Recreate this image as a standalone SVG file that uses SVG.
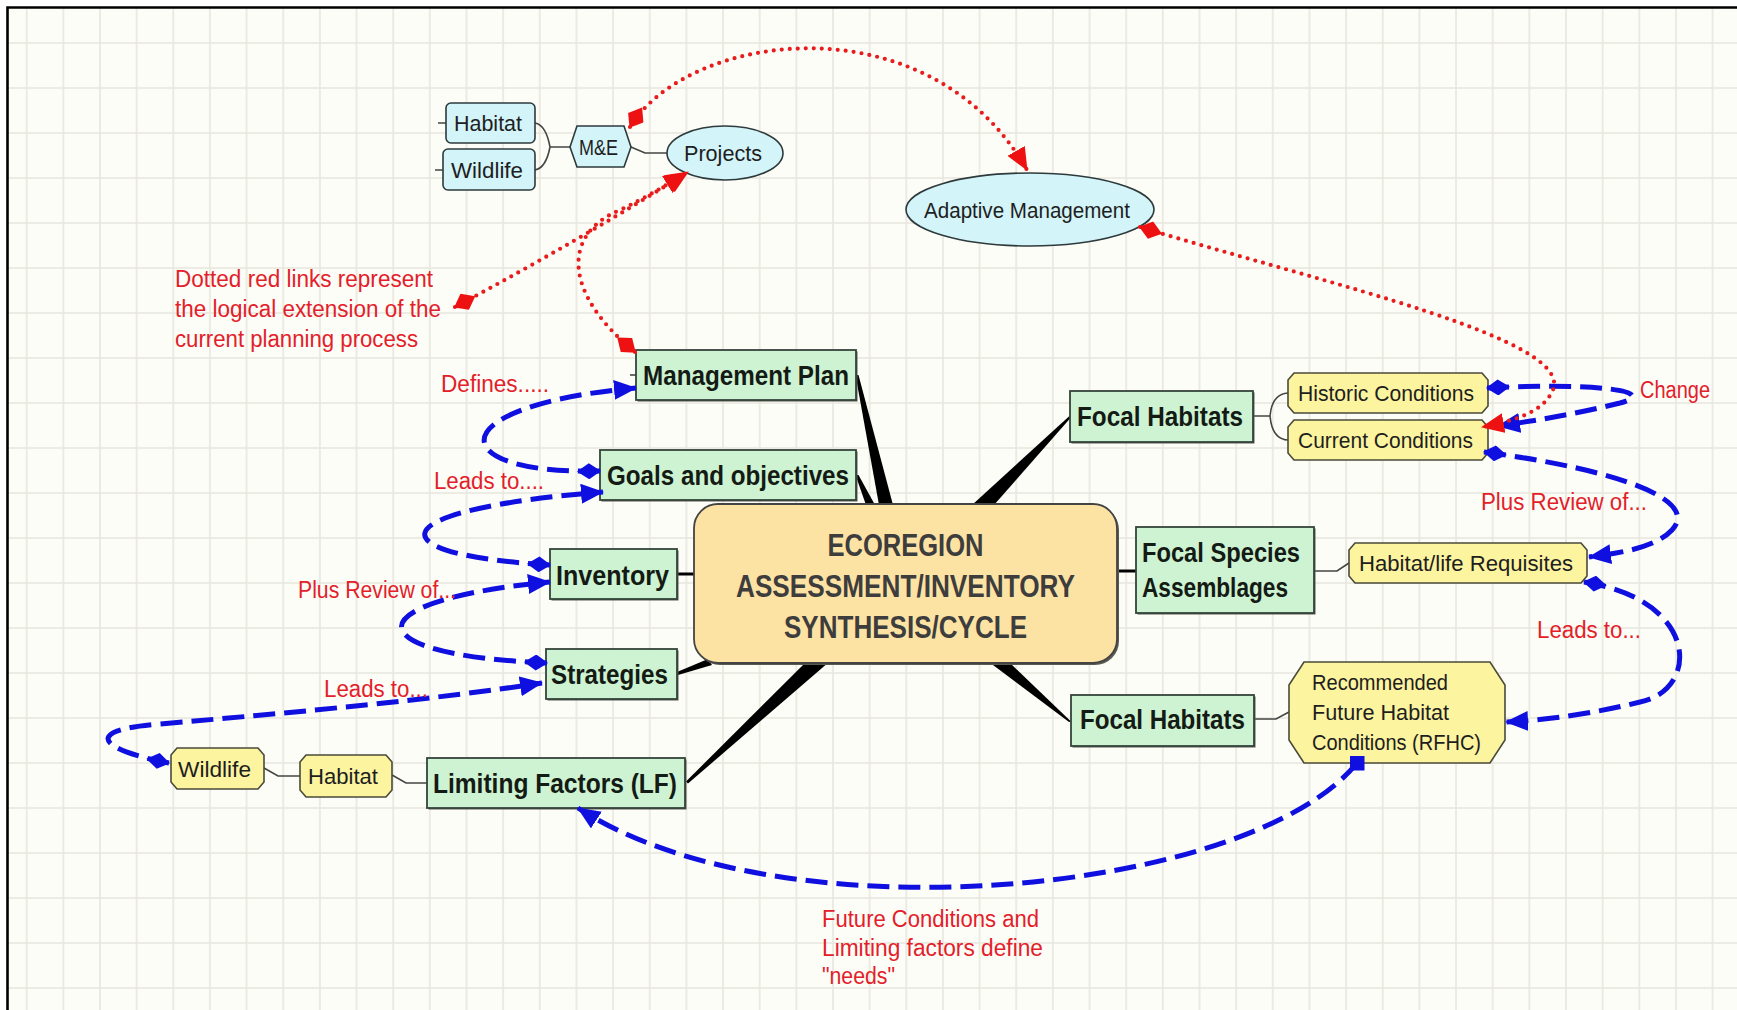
<svg xmlns="http://www.w3.org/2000/svg" width="1737" height="1010" viewBox="0 0 1737 1010">
<defs>
<style>
.t{font-family:"Liberation Sans",Arial,sans-serif;}
.g{font-size:27px;font-weight:bold;fill:#141a14;}
.c{font-size:32px;font-weight:bold;fill:#3d3d3d;}
.s{font-size:22.5px;fill:#1e1e1e;}
.r{font-size:23px;fill:#e3202a;}
.gn{fill:#cdf3d2;stroke:#34443a;stroke-width:1.8;}
.yn{fill:#fcf49f;stroke:#4a4a3a;stroke-width:1.6;}
.cn{fill:#d3f4f9;stroke:#2e3a3c;stroke-width:1.6;}
.sh{fill:#5a5a50;}
.ln{fill:none;stroke:#444;stroke-width:1.6;}
.sp{fill:#000;}
.bd{fill:none;stroke:#0f10e0;stroke-width:5;stroke-dasharray:22 9;}
.rd{fill:none;stroke:#e81c1c;stroke-width:4.2;stroke-dasharray:0 8;stroke-linecap:round;}
</style>
<pattern id="grid" patternUnits="userSpaceOnUse" x="25.7" y="42" width="36.65" height="45">
<rect width="36.65" height="45" fill="#fdfdf7"/>
<path d="M1,0 V45 M0,1 H36.65" stroke="#e7e7e0" stroke-width="1.6" fill="none"/>
</pattern>
<marker id="bA" markerUnits="userSpaceOnUse" markerWidth="24" markerHeight="20" refX="22" refY="10" orient="auto"><path d="M0,0 L23,10 L0,20 z" fill="#0f10e0"/></marker>
<marker id="bD" markerUnits="userSpaceOnUse" markerWidth="24" markerHeight="16" refX="1" refY="8" orient="auto"><path d="M0,8 L12,0 L24,8 L12,16 z" fill="#0f10e0"/></marker>
<marker id="bS" markerUnits="userSpaceOnUse" markerWidth="15" markerHeight="15" refX="7.5" refY="7.5" orient="0"><rect width="15" height="15" fill="#0f10e0"/></marker>
<marker id="rA" markerUnits="userSpaceOnUse" markerWidth="24" markerHeight="20" refX="22" refY="10" orient="auto"><path d="M0,0 L23,10 L0,20 z" fill="#ee1111"/></marker>
<marker id="rD" markerUnits="userSpaceOnUse" markerWidth="24" markerHeight="18" refX="1" refY="9" orient="auto"><path d="M0,9 L12,0 L24,9 L12,18 z" fill="#ee1111"/></marker>
</defs>

<rect width="1737" height="1010" fill="#ffffff"/>
<rect x="8" y="8" width="1729" height="1002" fill="url(#grid)"/>
<path d="M7.5,1010 V7.5 H1737" fill="none" stroke="#000" stroke-width="2.6"/>

<g id="spokes">
<polygon class="sp" points="855.5,375 858.5,375 893,505 879,505"/>
<polygon class="sp" points="855.5,475 858.5,475 875,505 866,505"/>
<polygon class="sp" points="1070,415.5 1070,418.5 994,505 972,505"/>
<polygon class="sp" points="989,662 1009,662 1071,721.5 1069,722"/>
<polygon class="sp" points="806,662 829,662 688,783.5 686,781.5"/>
<polygon class="sp" points="677,672 678,675 712,665 708,659"/>
<rect class="sp" x="677" y="572.5" width="18" height="3"/>
<rect class="sp" x="1116" y="569.5" width="21" height="3"/>
</g>

<g id="branch-lines">
<path class="ln" d="M535,123 Q546,125 550,147 M535,170 Q546,168 550,147 M550,147 H571"/>
<path class="ln" d="M438,123 H446 M435,170 H443"/>
<path class="ln" d="M631,147 L645,153 H667"/>
<path class="ln" d="M1253,416 H1270 M1270,416 Q1272,394 1288,393 M1270,416 Q1272,439 1288,440"/>
<path class="ln" d="M1314,571 H1337 L1349,563"/>
<path class="ln" d="M1254,719 H1276 L1289,712"/>
<path class="ln" d="M264,768 L278,776 H300 M392,775 L406,783 H427"/>
<path class="ln" d="M630,375 H636"/>
</g>

<g id="node-center">
<rect x="696" y="506" width="423" height="159" rx="24" class="sh"/>
<rect x="694" y="504" width="423" height="159" rx="24" fill="#fde3a3" stroke="#444" stroke-width="1.8"/>
<text class="t c" x="905.5" y="556" text-anchor="middle" textLength="156" lengthAdjust="spacingAndGlyphs">ECOREGION</text>
<text class="t c" x="905.5" y="597" text-anchor="middle" textLength="339" lengthAdjust="spacingAndGlyphs">ASSESSMENT/INVENTORY</text>
<text class="t c" x="905.5" y="638" text-anchor="middle" textLength="243" lengthAdjust="spacingAndGlyphs">SYNTHESIS/CYCLE</text>
</g>

<g id="node-management-plan"><rect class="sh" x="637.5" y="351.5" width="220" height="50"/><rect class="gn" x="636" y="350" width="220" height="50"/><text class="t g" x="643" y="385" textLength="206" lengthAdjust="spacingAndGlyphs">Management Plan</text></g>
<g id="node-goals"><rect class="sh" x="601.5" y="451.5" width="256" height="50"/><rect class="gn" x="600" y="450" width="256" height="50"/><text class="t g" x="607" y="485" textLength="242" lengthAdjust="spacingAndGlyphs">Goals and objectives</text></g>
<g id="node-inventory"><rect class="sh" x="551.5" y="550.5" width="127" height="50"/><rect class="gn" x="550" y="549" width="127" height="50"/><text class="t g" x="556" y="585" textLength="113" lengthAdjust="spacingAndGlyphs">Inventory</text></g>
<g id="node-strategies"><rect class="sh" x="547.5" y="650.5" width="131" height="50"/><rect class="gn" x="546" y="649" width="131" height="50"/><text class="t g" x="551" y="684" textLength="117" lengthAdjust="spacingAndGlyphs">Strategies</text></g>
<g id="node-limiting-factors"><rect class="sh" x="428.5" y="759.5" width="258" height="50"/><rect class="gn" x="427" y="758" width="258" height="50"/><text class="t g" x="433" y="793" textLength="244" lengthAdjust="spacingAndGlyphs">Limiting Factors (LF)</text></g>
<g id="node-focal-habitats-top"><rect class="sh" x="1071.5" y="392.5" width="183" height="51"/><rect class="gn" x="1070" y="391" width="183" height="51"/><text class="t g" x="1077" y="426" textLength="166" lengthAdjust="spacingAndGlyphs">Focal Habitats</text></g>
<g id="node-focal-species"><rect class="sh" x="1137.5" y="528.5" width="178" height="86"/><rect class="gn" x="1136" y="527" width="178" height="86"/><text class="t g" x="1142" y="562" textLength="158" lengthAdjust="spacingAndGlyphs">Focal Species</text><text class="t g" x="1142" y="597" textLength="146" lengthAdjust="spacingAndGlyphs">Assemblages</text></g>
<g id="node-focal-habitats-bottom"><rect class="sh" x="1072.5" y="696.5" width="183" height="51"/><rect class="gn" x="1071" y="695" width="183" height="51"/><text class="t g" x="1080" y="729" textLength="165" lengthAdjust="spacingAndGlyphs">Focal Habitats</text></g>

<g id="node-historic"><polygon class="yn" points="1294,373 1482,373 1488,380 1488,406 1482,413 1294,413 1288,406 1288,380"/><text class="t s" x="1298" y="401" textLength="176" lengthAdjust="spacingAndGlyphs">Historic Conditions</text></g>
<g id="node-current"><polygon class="yn" points="1294,420 1482,420 1488,427 1488,453 1482,460 1294,460 1288,453 1288,427"/><text class="t s" x="1298" y="448" textLength="175" lengthAdjust="spacingAndGlyphs">Current Conditions</text></g>
<g id="node-requisites"><polygon class="yn" points="1355,543 1581,543 1587,550 1587,576 1581,583 1355,583 1349,576 1349,550"/><text class="t s" x="1359" y="571" textLength="214" lengthAdjust="spacingAndGlyphs">Habitat/life Requisites</text></g>
<g id="node-rfhc"><polygon class="yn" points="1304,662 1490,662 1505,685 1505,740 1490,763 1304,763 1289,740 1289,685"/><text class="t s" x="1312" y="690" textLength="136" lengthAdjust="spacingAndGlyphs">Recommended</text><text class="t s" x="1312" y="720" textLength="137" lengthAdjust="spacingAndGlyphs">Future Habitat</text><text class="t s" x="1312" y="750" textLength="169" lengthAdjust="spacingAndGlyphs">Conditions (RFHC)</text></g>
<g id="node-wildlife-yellow"><polygon class="yn" points="177,748 258,748 264,755 264,782 258,789 177,789 171,782 171,755"/><text class="t s" x="178" y="777" textLength="73" lengthAdjust="spacingAndGlyphs">Wildlife</text></g>
<g id="node-habitat-yellow"><polygon class="yn" points="306,755 386,755 392,762 392,790 386,797 306,797 300,790 300,762"/><text class="t s" x="308" y="784" textLength="70" lengthAdjust="spacingAndGlyphs">Habitat</text></g>

<g id="node-habitat-cyan"><rect class="cn" x="446" y="103" width="89" height="40" rx="5"/><text class="t s" x="454" y="131" textLength="68" lengthAdjust="spacingAndGlyphs">Habitat</text></g>
<g id="node-wildlife-cyan"><rect class="cn" x="443" y="149" width="92" height="41" rx="5"/><text class="t s" x="451" y="178" textLength="72" lengthAdjust="spacingAndGlyphs">Wildlife</text></g>
<g id="node-me"><polygon class="cn" points="577,126 624,126 631,147 624,167 577,167 570,147"/><text class="t s" x="579" y="155" textLength="39" lengthAdjust="spacingAndGlyphs">M&amp;E</text></g>
<g id="node-projects"><ellipse class="cn" cx="725" cy="153" rx="58" ry="27"/><text class="t s" x="684" y="161" textLength="78" lengthAdjust="spacingAndGlyphs">Projects</text></g>
<g id="node-adaptive"><ellipse class="cn" cx="1030" cy="209.5" rx="124" ry="36.5"/><text class="t s" x="924" y="218" textLength="206" lengthAdjust="spacingAndGlyphs">Adaptive Management</text></g>

<g id="connectors">
<path class="bd" d="M600,471 C440,475 440,405 636,388" marker-start="url(#bD)" marker-end="url(#bA)"/>
<path class="bd" d="M550,565 C375,555 375,510 603,492" marker-start="url(#bD)" marker-end="url(#bA)"/>
<path class="bd" d="M547,663 C350,655 355,600 550,582" marker-start="url(#bD)" marker-end="url(#bA)"/>
<path class="bd" d="M169,763 C100,750 80,730 160,724 C300,712 430,700 542,683" marker-start="url(#bD)" marker-end="url(#bA)"/>
<path class="bd" d="M1487,388 C1600,382 1660,392 1620,403 C1580,413 1540,420 1498,426" marker-start="url(#bD)" marker-end="url(#bA)"/>
<path class="bd" d="M1484,452 C1620,470 1700,500 1672,530 C1655,548 1620,553 1589,557" marker-start="url(#bD)" marker-end="url(#bA)"/>
<path class="bd" d="M1584,582 C1700,600 1700,690 1640,702 C1600,712 1550,720 1506,722" marker-start="url(#bD)" marker-end="url(#bA)"/>
<path class="bd" d="M1357,763 C1250,895 780,940 578,808" marker-start="url(#bS)" marker-end="url(#bA)"/>
<path class="rd" d="M630,127 C690,30 930,0 1027,170" marker-start="url(#rD)" marker-end="url(#rA)"/>
<path class="rd" d="M455,307 Q580,240 688,172" marker-start="url(#rD)" marker-end="url(#rA)"/>
<path class="rd" d="M635,352 C565,295 560,235 620,210 C645,198 665,186 686,173" marker-start="url(#rD)" marker-end="url(#rA)"/>
<path class="rd" d="M1140,227 C1330,285 1580,340 1552,392 C1543,410 1520,420 1482,427" marker-start="url(#rD)" marker-end="url(#rA)"/>
</g>

<g id="labels">
<text class="t r" x="175" y="287" textLength="258" lengthAdjust="spacingAndGlyphs">Dotted red links represent</text>
<text class="t r" x="175" y="317" textLength="266" lengthAdjust="spacingAndGlyphs">the logical extension of the</text>
<text class="t r" x="175" y="347" textLength="243" lengthAdjust="spacingAndGlyphs">current planning process</text>
<text class="t r" x="441" y="392" textLength="108" lengthAdjust="spacingAndGlyphs">Defines.....</text>
<text class="t r" x="434" y="489" textLength="110" lengthAdjust="spacingAndGlyphs">Leads to....</text>
<text class="t r" x="298" y="598" textLength="158" lengthAdjust="spacingAndGlyphs">Plus Review of...</text>
<text class="t r" x="324" y="697" textLength="104" lengthAdjust="spacingAndGlyphs">Leads to...</text>
<text class="t r" x="1640" y="398" textLength="70" lengthAdjust="spacingAndGlyphs">Change</text>
<text class="t r" x="1481" y="510" textLength="166" lengthAdjust="spacingAndGlyphs">Plus Review of...</text>
<text class="t r" x="1537" y="638" textLength="104" lengthAdjust="spacingAndGlyphs">Leads to...</text>
<text class="t r" x="822" y="927" textLength="217" lengthAdjust="spacingAndGlyphs">Future Conditions and</text>
<text class="t r" x="822" y="956" textLength="221" lengthAdjust="spacingAndGlyphs">Limiting factors define</text>
<text class="t r" x="822" y="984" textLength="73" lengthAdjust="spacingAndGlyphs">"needs"</text>
</g>
</svg>
